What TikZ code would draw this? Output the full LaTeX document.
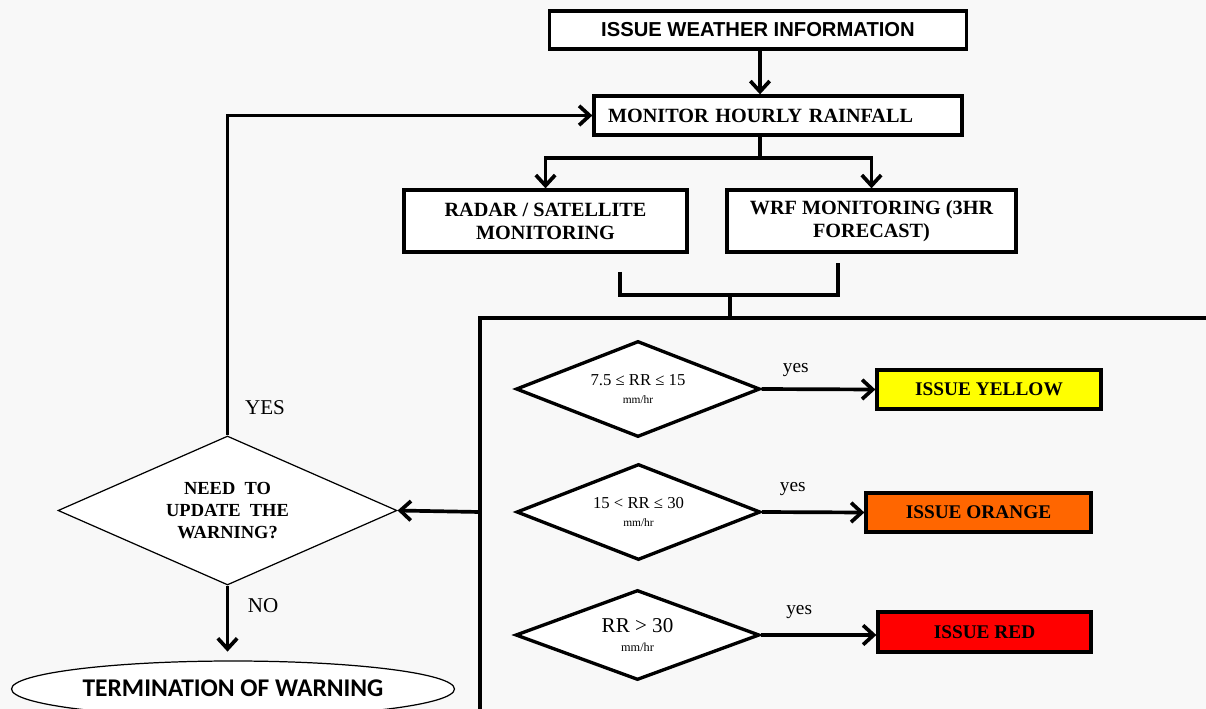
\documentclass[tikz,border=0pt]{standalone}
\usepackage{fontspec}
\setmainfont{Liberation Serif}
\newfontfamily\arialfont{Liberation Sans}
\newfontfamily\calfont{Carlito}
\usetikzlibrary{shapes.geometric,arrows.meta}
\definecolor{bg}{RGB}{248,248,248}
\definecolor{warnorange}{RGB}{255,102,0}
\definecolor{warnred}{RGB}{255,0,0}
\definecolor{warnyellow}{RGB}{255,255,0}

\begin{document}
\begin{tikzpicture}[x=0.02cm,y=-0.02cm,
    box/.style={draw,line width=1.9pt,rectangle,fill=white,inner sep=2pt,align=center,
      font=\fontsize{11.5}{13}\selectfont\bfseries},
    level/.style={draw,line width=1.9pt,rectangle,minimum width=4.4cm,minimum height=0.78cm,
      font=\fontsize{11}{12}\selectfont\bfseries},
    test/.style={draw,line width=1.9pt,diamond,aspect=2.54,inner sep=0pt,fill=white,align=center,
      minimum width=4.88cm,minimum height=1.92cm},
    link/.style={line width=2.1pt},
    flow/.style={line width=2.1pt,-{Straight Barb[length=6pt,width=11pt,line width=2.1pt]}},
    lbl/.style={font=\fontsize{11}{12}\selectfont}]
  \useasboundingbox (0,0) rectangle (1206,709);
  \fill[bg] (0,0) rectangle (1206,709);
  \clip (0,0) rectangle (1206,709);

  % top of the chart
  \node[box,font=\arialfont\fontsize{11.5}{13}\selectfont\bfseries,
    minimum width=8.34cm,minimum height=0.76cm] (info) at (758,30) {ISSUE WEATHER INFORMATION};
  \node[box,font=\fontsize{11.5}{13}\selectfont\bfseries,minimum width=7.36cm,minimum height=0.78cm,
    text width=6.8cm,align=left,inner xsep=0.28cm] (monitor) at (778,115.5) {MONITOR HOURLY RAINFALL};
  \node[box,minimum width=5.66cm,minimum height=1.24cm] (radar) at (545.5,221) {RADAR / SATELLITE\\MONITORING};
  \node[box,minimum width=5.78cm,minimum height=1.24cm] (wrf) at (871.5,221) {WRF MONITORING (3HR\\FORECAST)};

  \coordinate (split) at (760,158);
  \coordinate (lbar) at (620,272);
  \coordinate (rbar) at (838,263);
  \coordinate (join) at (730,295);
  \coordinate (ftop) at (730,318);
  \coordinate (fleft) at (480,512);

  % thresholds
  \draw[link] (1230,318) -| (480,730);
  \node[test] (d1) at (638,389) {\fontsize{9.5}{10.5}\selectfont 7.5 ≤ RR ≤ 15\\[-2pt]\fontsize{6.5}{7}\selectfont mm/hr};
  \node[test] (d2) at (638.5,512) {\fontsize{9.5}{10.5}\selectfont 15 < RR ≤ 30\\[-2pt]\fontsize{6.5}{7}\selectfont mm/hr};
  \node[test,minimum height=1.8cm] (d3) at (637.5,635) {\fontsize{12}{13}\selectfont RR > 30\\[-1pt]\fontsize{7}{8}\selectfont mm/hr};

  \node[level,fill=warnyellow,minimum width=4.48cm] (yellow) at (989,389.5) {ISSUE YELLOW};
  \node[level,fill=warnorange,minimum width=4.5cm] (orange) at (978.5,512.5) {ISSUE ORANGE};
  \node[level,fill=warnred,minimum width=4.26cm,minimum height=0.8cm] (red) at (984.5,632) {ISSUE RED};

  % update decision
  \node[draw,diamond,aspect=2.27,line width=0.7pt,fill=white,inner sep=0pt,align=center,
    minimum width=6.78cm,minimum height=2.98cm,font=\fontsize{10.5}{12.5}\selectfont\bfseries]
    (update) at (227.5,510.5) {NEED\ \ TO\\UPDATE\ \ THE\\WARNING?};
  \node[draw,ellipse,line width=0.7pt,fill=white,minimum width=8.86cm,minimum height=1.12cm,
    inner sep=0pt] (term) at (233,689) {};
  \node[font=\calfont\fontsize{14.5}{16}\selectfont\bfseries] (termtext) at (233,688) {TERMINATION OF WARNING};

  \draw[flow] (info.south -| split) -- (split |- monitor.north);
  \draw[link] (monitor.south -| split) -- (split);
  \draw[flow] (split) -| (radar.north);
  \draw[flow] (split) -| (wrf.north);
  \draw[link] (lbar) |- (join) -| (rbar);
  \draw[link] (join) -- (ftop);
  \draw[flow] (d1.east) -- (yellow.west) node[lbl,pos=0.3,above=3pt] {yes};
  \draw[flow] (d2.east) -- (orange.west) node[lbl,pos=0.3,above=5pt] {yes};
  \draw[flow] (d3.east) -- (d3.east -| red.west) node[lbl,pos=0.33,above=5pt] {yes};
  \draw[flow] (fleft) -- (update.east);
  \draw[flow] (update.north) |- (monitor.west);
  \draw[flow,shorten >=5pt] (update.south) -- (update.south |- term.north);
  \node[lbl,font=\fontsize{12}{13}\selectfont] (yes) at (265,408) {YES};
  \node[lbl,font=\fontsize{12}{13}\selectfont] (no) at (263,606) {NO};
\end{tikzpicture}
\end{document}
